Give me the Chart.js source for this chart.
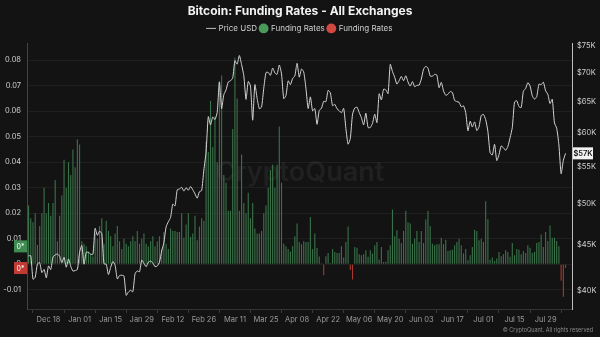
<!DOCTYPE html>
<html lang="en">
<head>
<meta charset="UTF-8">
<title>Bitcoin: Funding Rates - All Exchanges</title>
<script src="https://cdn.jsdelivr.net/npm/chart.js"></script>
<style>
    html, body {
        margin: 0;
        padding: 0;
        background: #131313;
    }
    .wrap {
        position: relative;
        width: 600px;
        height: 337px;
    }
</style>
</head>
<body>
<div class="wrap"><canvas id="fundingChart" width="600" height="337"></canvas></div>
<script>
// daily series, first day below
const startDate = '2023-12-09';

const tickLabels = ['Dec 18', 'Jan 01', 'Jan 15', 'Jan 29', 'Feb 12', 'Feb 26', 'Mar 11', 'Mar 25',
    'Apr 08', 'Apr 22', 'May 06', 'May 20', 'Jun 03', 'Jun 17', 'Jul 01', 'Jul 15', 'Jul 29'];

const rateTicks = [-0.01, 0, 0.01, 0.02, 0.03, 0.04, 0.05, 0.06, 0.07, 0.08];
const priceTicks = [40000, 45000, 50000, 55000, 60000, 65000, 70000, 75000];

const priceUsd = [
    // Dec
    43770, 43790, 41240, 41450, 42890, 43020, 41940, 42280, 41370, 42660, 42260, 43650, 43870, 43990, 43740, 43020,
    43610, 42520, 43440, 42630, 42100, 42160, 42270,
    // Jan
    44180, 44950, 42850, 44180, 44160, 43970, 43930, 46970, 46140, 46630, 46340, 42890, 42850, 41730, 42510, 43150,
    42740, 41260, 41620, 41660, 41580, 39570, 39900, 40080, 39930, 41820, 42120, 42030, 43300, 42940, 42580,
    // Feb
    43080, 43190, 42990, 42580, 42660, 43080, 44320, 45300, 47150, 47770, 48290, 49960, 49740, 51830, 51940, 52160,
    51660, 52120, 51780, 52260, 51840, 51300, 50730, 51570, 51730, 54520, 57090, 62500, 61200,
    // Mar
    62440, 62030, 63170, 68330, 63800, 66110, 66930, 68300, 68500, 69020, 72120, 71480, 73080, 71400, 69400, 65320,
    68390, 67610, 61930, 67840, 65500, 63780, 64060, 67230, 69960, 69990, 69460, 70780, 69900, 69650, 71330,
    // Apr
    69700, 65450, 65980, 68510, 67840, 68900, 69360, 71630, 69140, 70590, 70060, 67200, 63820, 65740, 63430, 63810,
    61280, 63510, 63840, 64990, 64930, 66840, 66410, 64280, 64500, 63770, 63460, 63120, 63840, 60640,
    // May
    58250, 59120, 62890, 63890, 64030, 63160, 62330, 61190, 63050, 60790, 60790, 61450, 62900, 61550, 66270, 65230,
    67050, 66940, 66280, 71450, 70140, 69120, 67930, 68530, 69270, 68510, 69390, 68300, 67580, 68360, 67490,
    // Jun
    67710, 67750, 68800, 70570, 71080, 70760, 69340, 69310, 69650, 69510, 67310, 68240, 66760, 66010, 66190, 66640,
    66490, 65150, 64960, 64830, 64100, 64250, 63180, 60280, 61800, 60860, 61670, 60320, 60890, 62680,
    // Jul
    62850, 62030, 60170, 56980, 56660, 58230, 55860, 56710, 57980, 57720, 57340, 57900, 59230, 60790, 64870, 65100,
    64120, 63970, 66710, 67160, 68180, 67590, 65930, 65370, 65780, 67910, 67810, 68260, 66780, 66190, 64630,
    // Aug
    65350, 61500, 60680, 58120, 54000, 55900, 56900
];

const fundingRates = [
    // Dec
    0.023, 0.018, 0.0165, 0.020, 0.0075, 0.015, 0.020, 0.030, 0.020, 0.024, 0.019, 0.024, 0.033,
    0.009, 0.019, 0.027, 0.041, 0.030, 0.040, 0.035, 0.045, 0.038, 0.049,
    // Jan
    0.047, 0.009, 0.008, 0.007, 0.005, 0.004, 0.003,
    0.012, 0.010, 0.015, 0.018, 0.008, 0.017, 0.013, 0.011, 0.007, 0.012, 0.015, 0.009, 0.006, 0.010,
    0.008, 0.007, 0.009, 0.011, 0.009, 0.013, 0.008, 0.010, 0.012, 0.008,
    // Feb
    0.007, 0.009, 0.011, 0.007, 0.009, 0.011, 0.006,
    0.0126, 0.008, 0.006, 0.014, 0.013, 0.013, 0.0126, 0.0126, 0.020, 0.0104, 0.0156, 0.020, 0.0107, 0.012, 0.019,
    0.0094, 0.0148, 0.018, 0.017, 0.048, 0.044, 0.064,
    // Mar
    0.046, 0.058, 0.040, 0.071, 0.074, 0.035, 0.032, 0.021, 0.021, 0.053, 0.081, 0.065, 0.021, 0.043, 0.024, 0.020,
    0.028, 0.018, 0.024, 0.014, 0.012, 0.012, 0.013, 0.020, 0.023, 0.030, 0.037, 0.039, 0.030, 0.039, 0.054,
    // Apr
    0.032, 0.008, 0.007, 0.006, 0.005, 0.007, 0.011, 0.016,
    0.0087, 0.0078, 0.009, 0.0087, 0.0087, 0.0185, 0.006, 0.012, 0.0064, 0.003, 0.0004, -0.0043, 0.0031, 0.0044,
    0.0005, 0.006, 0.0048, 0.0044, 0.0044, 0.007, 0.0026, 0.0087,
    // May
    0.0148, -0.0023, -0.006,
    0.0068, 0.0065, 0.0039, 0.0035, 0.0039, 0.0055, 0.0029, 0.0055, 0.0042, 0.0074, 0.0087, 0.0018, 0.0068, 0.0009,
    0.001, 0.0055, 0.0074, 0.0215, 0.011, 0.0133, 0.010, 0.0083, 0.013, 0.021, 0.0165, 0.016, 0.008, 0.010,
    // Jun
    0.013, 0.0087, 0.013, 0.0083, 0.0175, 0.021, 0.015,
    0.008, 0.0074, 0.0078, 0.0078, 0.0104, 0.0078, 0.0096, 0.0052, 0.0055, 0.0057, 0.0074, 0.0087, 0.010, 0.0074,
    0.0042, 0.006, 0.0016, 0.0035, 0.0068, 0.0135, 0.013, 0.0094, 0.010,
    // Jul
    0.0087, 0.0247, 0.0176, 0.0018, 0.0026, 0.0013, 0.0022, 0.0048, 0.0031, 0.0039, 0.0055, 0.0048, 0.0029, 0.0083,
    0.0035, 0.006, 0.0057, 0.0039, 0.0052, 0.0044, 0.0074, 0.0065, 0.0044, 0.0048, 0.0083, 0.0087, 0.0117, 0.0068,
    0.0126, 0.0091, 0.0152,
    // Aug
    0.0104, 0.0104, 0.0091, 0.007, -0.0065, -0.0128, -0.0015
];

// day labels like "Dec 18"
const dayLabels = priceUsd.map((_, i) => {
    const d = new Date(startDate + 'T00:00:00Z');
    d.setUTCDate(d.getUTCDate() + i);
    return d.toLocaleDateString('en-US', { month: 'short', day: '2-digit', timeZone: 'UTC' });
});
const dayIdx = dayLabels.map((_, i) => i);
const tickIdx = dayIdx.filter(i => tickLabels.includes(dayLabels[i]));

const positiveRates = fundingRates.map(v => v >= 0 ? v : null);
const negativeRates = fundingRates.map(v => v < 0 ? v : null);

const FONT = 'Inter, "Noto Sans", sans-serif';
Chart.defaults.font.family = FONT;

// watermark, copyright and last value badges
const decorPlugin = {
    id: 'decor',
    beforeInit(chart) {
        const fit = chart.legend.fit;
        chart.legend.fit = function () {
            fit.call(this);
            this.height += 1;
        };
    },
    beforeDatasetsDraw(chart) {
        const ctx = chart.ctx;
        ctx.save();
        ctx.font = '600 27px ' + FONT;
        ctx.fillStyle = 'rgba(255,255,255,0.06)';
        ctx.textAlign = 'center';
        ctx.textBaseline = 'middle';
        ctx.fillText('CryptoQuant', 300, 173);
        ctx.restore();
    },
    afterDraw(chart) {
        const { ctx, chartArea, scales } = chart;
        ctx.save();
        ctx.textBaseline = 'middle';

        // price badge
        const lastPrice = priceUsd[priceUsd.length - 1];
        const yP = scales.yPrice.getPixelForValue(lastPrice);
        ctx.fillStyle = '#f2f2f2';
        ctx.fillRect(chartArea.right + 1, yP - 6, 20, 12);
        ctx.fillStyle = '#111';
        ctx.font = '600 7.5px ' + FONT;
        ctx.textAlign = 'center';
        ctx.fillText('$' + Math.round(lastPrice / 1000) + 'K', chartArea.right + 11, yP + 0.5);

        // funding badges
        const lastPos = positiveRates.filter(v => v !== null).pop();
        const lastNeg = negativeRates.filter(v => v !== null).pop();
        [[lastPos, '#3f8b50'], [lastNeg, '#c13a33']].forEach(([v, c]) => {
            const y = scales.yRate.getPixelForValue(v);
            ctx.fillStyle = c;
            ctx.fillRect(chartArea.left - 13, y - 6, 13, 12);
            ctx.fillStyle = '#fff';
            ctx.font = '7px ' + FONT;
            ctx.fillText('0*', chartArea.left - 6.5, y + 0.5);
        });

        ctx.font = '5.5px ' + FONT;
        ctx.fillStyle = '#8a8a8a';
        ctx.textAlign = 'right';
        ctx.fillText('\u00a9 CryptoQuant. All rights reserved', 593, 330);
        ctx.restore();
    }
};

const ctx = document.getElementById('fundingChart').getContext('2d');
new Chart(ctx, {
    type: 'bar',
    data: {
        labels: dayIdx,
        datasets: [
            {
                type: 'line',
                label: 'Price USD',
                data: priceUsd,
                yAxisID: 'yPrice',
                borderColor: '#d4d4d4',
                borderWidth: 1,
                pointRadius: 0,
                pointStyle: 'line',
                tension: 0.2,
                order: 0
            },
            {
                label: 'Funding Rates',
                data: positiveRates,
                yAxisID: 'yRate',
                backgroundColor: '#3a7249',
                pointStyle: 'circle',
                grouped: false,
                barPercentage: 0.5,
                categoryPercentage: 1,
                order: 1
            },
            {
                label: 'Funding Rates',
                data: negativeRates,
                yAxisID: 'yRate',
                backgroundColor: '#a9382f',
                pointStyle: 'circle',
                grouped: false,
                barPercentage: 0.5,
                categoryPercentage: 1,
                order: 2
            }
        ]
    },
    options: {
        responsive: false,
        animation: false,
        layout: { padding: 0 },
        plugins: {
            title: {
                display: true,
                text: 'Bitcoin: Funding Rates - All Exchanges',
                color: '#f2f2f2',
                font: { size: 12, weight: 'bold' },
                padding: { top: 4, bottom: 3 }
            },
            legend: {
                display: true,
                labels: {
                    color: '#cfcfcf',
                    font: { size: 8 },
                    usePointStyle: true,
                    boxWidth: 7,
                    boxHeight: 7,
                    padding: 3,
                    generateLabels(chart) {
                        const items = Chart.defaults.plugins.legend.labels.generateLabels(chart);
                        const colors = ['#bdbdbd', '#4a9a5a', '#d0483f'];
                        items.forEach((it, k) => {
                            it.fillStyle = colors[k];
                            it.strokeStyle = colors[k];
                        });
                        return items;
                    }
                }
            },
            tooltip: { enabled: false }
        },
        scales: {
            x: {
                type: 'linear',
                min: -0.7,
                max: 244.9,
                offset: false,
                afterBuildTicks: s => { s.ticks = tickIdx.map(v => ({ value: v })); },
                afterFit: s => { s.height = 28; },
                ticks: {
                    autoSkip: false,
                    maxRotation: 0,
                    color: '#9a9a9a',
                    font: { size: 7.5 },
                    padding: 2,
                    callback: v => dayLabels[v]
                },
                grid: { drawOnChartArea: false, drawTicks: true, tickLength: 4, color: '#3a3a3a' },
                border: { color: '#333' }
            },
            yRate: {
                type: 'linear',
                position: 'left',
                min: -0.01756,
                max: 0.0866,
                afterBuildTicks: s => { s.ticks = rateTicks.map(v => ({ value: v })); },
                afterFit: s => { s.width = 27; },
                ticks: {
                    color: '#d0d0d0',
                    font: { size: 7.5 },
                    padding: 6,
                    callback: v => v === 0 ? '0' : v.toFixed(2)
                },
                grid: { color: '#1f1f1f', drawTicks: false },
                border: { color: '#444' }
            },
            yPrice: {
                type: 'logarithmic',
                position: 'right',
                min: 38210,
                max: 75380,
                afterBuildTicks: s => { s.ticks = priceTicks.map(v => ({ value: v })); },
                afterFit: s => { s.width = 28; },
                ticks: {
                    color: '#d0d0d0',
                    font: { size: 7.5 },
                    padding: 5,
                    callback: v => '$' + (v / 1000) + 'K'
                },
                grid: { drawOnChartArea: false, drawTicks: false },
                border: { color: '#bdbdbd' }
            }
        }
    },
    plugins: [decorPlugin]
});
</script>
</body>
</html>
